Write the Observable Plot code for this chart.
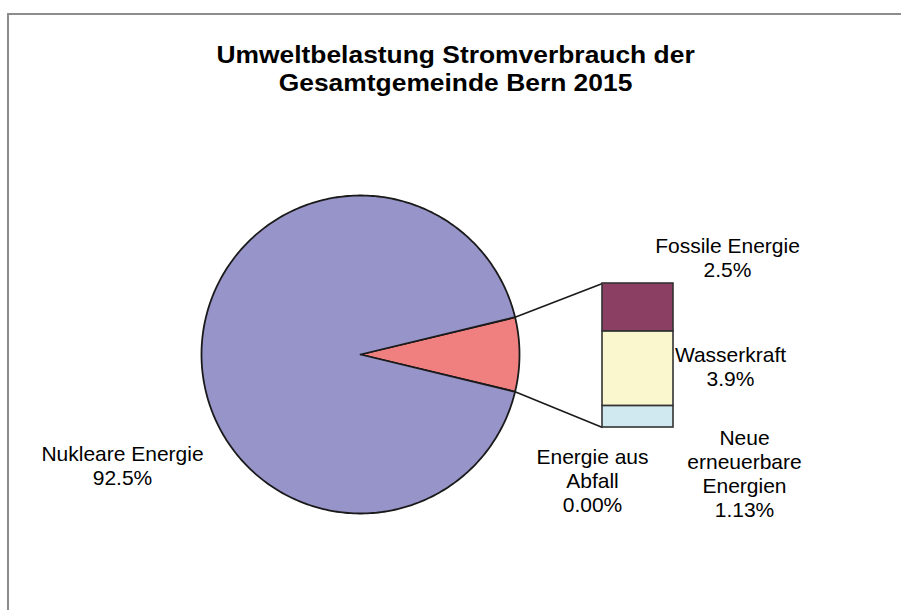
<!DOCTYPE html>
<html>
<head>
<meta charset="utf-8">
<script src="https://cdn.jsdelivr.net/npm/d3@7"></script>
<script src="https://cdn.jsdelivr.net/npm/@observablehq/plot@0.6"></script>
<style>
  html, body { margin: 0; padding: 0; background: #fff; }
  #wrap { position: relative; width: 901px; height: 610px; overflow: hidden; font-family: "Liberation Sans", Arial, sans-serif; }
  #frame { position: absolute; left: 7px; top: 13px; width: 1000px; height: 1000px; border-left: 2px solid #8c8c8c; border-top: 2px solid #8c8c8c; }
  #title { position: absolute; left: 0; width: 911px; top: 41px; text-align: center; font-weight: bold; font-size: 24px; line-height: 28px; color: #000; transform: scaleX(1.1); transform-origin: 455px 0; }
  #wrap svg { position: absolute; left: 0; top: 0; }
</style>
</head>
<body>
<div id="wrap">
  <div id="frame"></div>
  <div id="title">Umweltbelastung Stromverbrauch der<br>Gesamtgemeinde Bern 2015</div>
</div>
<script>
// ---- data ----
const pieCategories = ["Nukleare Energie", "Energie aus Abfall", "Übrige"];
const pieShares = [92.5, 0.00, 7.53];
const barCategories = ["Neue erneuerbare Energien", "Wasserkraft", "Fossile Energie"]; // bottom to top
const barShares = [1.13, 3.9, 2.5];
const labelTexts = {
  "Nukleare Energie": "Nukleare Energie\n92.5%",
  "Energie aus Abfall": "Energie aus\nAbfall\n0.00%",
  "Fossile Energie": "Fossile Energie\n2.5%",
  "Wasserkraft": "Wasserkraft\n3.9%",
  "Neue erneuerbare Energien": "Neue\nerneuerbare\nEnergien\n1.13%"
};

// ---- styles / layout ----
const colorDomain = ["Nukleare Energie", "Energie aus Abfall", "Übrige", "Fossile Energie", "Wasserkraft", "Neue erneuerbare Energien"];
const colorRange = ["#9794c9", "#9794c9", "#f08080", "#8b3f62", "#faf6ce", "#d0e8ef"];
const labelPos = { // pixel centres of label blocks
  "Nukleare Energie": [122, 465],
  "Energie aus Abfall": [592, 480],
  "Fossile Energie": [727, 257],
  "Wasserkraft": [730, 366],
  "Neue erneuerbare Energien": [744, 473]
};
const W = 901, H = 610;
const pieXr = [201, 519], pieYr = [513, 195];
const barXr = [602, 673], barYr = [427, 283];
const fontSize = 21, lineHeight = 24 / 21;

const pieX = Plot.scale({x: {domain: [-1, 1], range: pieXr}});
const pieY = Plot.scale({y: {domain: [-1, 1], range: pieYr}});
const barTotal = d3.sum(barShares);
const barX = Plot.scale({x: {domain: [0, 1], range: barXr}});
const barY = Plot.scale({y: {domain: [0, barTotal], range: barYr}});

// pie geometry: "Übrige" slice centred on the right
const total = d3.sum(pieShares);
const otherIdx = 2;
const otherAngle = pieShares[otherIdx] / total * 2 * Math.PI;
let start = -otherAngle / 2; // mathematical angle (ccw from +x)
const order = [2, 1, 0];
const sliceAngles = {};
for (const i of order) {
  const a = pieShares[i] / total * 2 * Math.PI;
  sliceAngles[pieCategories[i]] = [start, start + a];
  start += a;
}
const piePts = [];
for (const [cat, [a0, a1]] of Object.entries(sliceAngles)) {
  if (a1 - a0 <= 0) continue;
  const n = Math.max(2, Math.ceil((a1 - a0) / (Math.PI / 180)));
  piePts.push({cat, x: 0, y: 0});
  for (let k = 0; k <= n; k++) {
    const t = a0 + (a1 - a0) * k / n;
    piePts.push({cat, x: Math.cos(t), y: Math.sin(t)});
  }
  piePts.push({cat, x: 0, y: 0});
}

const colorOpt = {domain: colorDomain, range: colorRange, type: "ordinal"};

const pieLabels = ["Nukleare Energie", "Energie aus Abfall"].map(c => ({
  cat: c, text: labelTexts[c], x: pieX.invert(labelPos[c][0]), y: pieY.invert(labelPos[c][1])
}));

const pieSvg = Plot.plot({
  width: W, height: H, margin: 0,
  style: {background: "transparent", overflow: "visible"},
  x: {domain: [-1, 1], range: pieXr, axis: null},
  y: {domain: [-1, 1], range: pieYr, axis: null},
  color: colorOpt,
  marks: [
    Plot.line(piePts, {x: "x", y: "y", z: "cat", fill: "cat", stroke: "#1a1a1a", strokeWidth: 1.8, curve: "linear", strokeLinejoin: "round"}),
    Plot.text(pieLabels, {x: "x", y: "y", text: "text", lineAnchor: "middle", lineHeight, fontSize, fill: "#000", fontFamily: "Liberation Sans, Arial, sans-serif"})
  ]
});

// bar
const barData = barCategories.map((c, i) => ({cat: c, share: barShares[i]}));
const [o0, o1] = sliceAngles["Übrige"];
const conn = [
  {x1: barX.invert(pieX.apply(Math.cos(o1))), y1: barY.invert(pieY.apply(Math.sin(o1))), x2: 0, y2: barTotal},
  {x1: barX.invert(pieX.apply(Math.cos(o0))), y1: barY.invert(pieY.apply(Math.sin(o0))), x2: 0, y2: 0}
];
const barLabels = barCategories.map(c => ({
  cat: c, text: labelTexts[c], x: barX.invert(labelPos[c][0]), y: barY.invert(labelPos[c][1])
}));

const barSvg = Plot.plot({
  width: W, height: H, margin: 0,
  style: {background: "transparent", overflow: "visible"},
  x: {domain: [0, 1], range: barXr, axis: null},
  y: {domain: [0, barTotal], range: barYr, axis: null},
  color: colorOpt,
  marks: [
    Plot.link(conn, {x1: "x1", y1: "y1", x2: "x2", y2: "y2", stroke: "#1a1a1a", strokeWidth: 1.6}),
    Plot.rectY(barData, Plot.stackY({x1: 0, x2: 1, y: "share", fill: "cat", stroke: "#333", strokeWidth: 1.6, inset: 0})),
    Plot.text(barLabels, {x: "x", y: "y", text: "text", lineAnchor: "middle", lineHeight, fontSize, fill: "#000", fontFamily: "Liberation Sans, Arial, sans-serif"})
  ]
});

const wrap = document.getElementById("wrap");
wrap.appendChild(pieSvg);
wrap.appendChild(barSvg);
</script>
</body>
</html>
